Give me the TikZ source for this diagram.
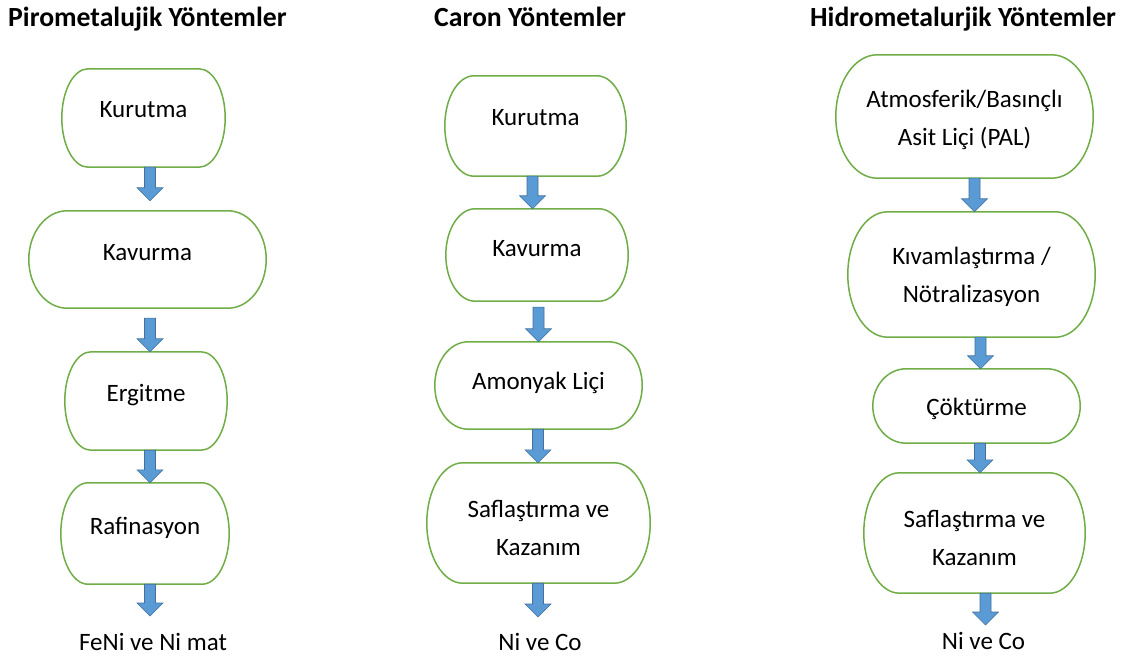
\documentclass[tikz,border=0pt]{standalone}
\usepackage{fontspec}
\setmainfont{Carlito}
\usetikzlibrary{calc}

\definecolor{stagegreen}{HTML}{70AD47}
\definecolor{flowblue}{HTML}{5B9BD5}
\definecolor{flowedge}{HTML}{41719C}

% block arrow from a start point straight down to a tip point
\newcommand\flowarrow[2]{%
  \path[arrowbody] let \p1=(#1), \p2=(#2) in
    (\x1-5.5pt,\y1) -- (\x1+5.5pt,\y1) -- (\x1+5.5pt,\y2+13pt)
    -- (\x1+13pt,\y2+13pt) -- (\x1,\y2) -- (\x1-13pt,\y2+13pt)
    -- (\x1-5.5pt,\y2+13pt) -- cycle;}

% terminator outline round a stage node: straight top and bottom,
% half-elliptic ends as wide as 0.161 of the node width
\newcommand\terminatorline[1]{%
  \path[stageline] let \p1=(#1.north west), \p2=(#1.south east),
    \n1={0.161*(\x2-\x1)}, \n2={(\y1-\y2)/2} in
    (\x1+\n1,\y1) -- (\x2-\n1,\y1)
    arc[start angle=90, end angle=-90, x radius={\n1*1pt}, y radius={\n2*1pt}]
    -- (\x1+\n1,\y2)
    arc[start angle=270, end angle=90, x radius={\n1*1pt}, y radius={\n2*1pt}]
    -- cycle;}

\tikzset{
  stage/.style={align=center, inner sep=0pt,
    font=\fontsize{25}{38}\selectfont},
  stageline/.style={draw=stagegreen, line width=1.5pt},
  arrowbody/.style={fill=flowblue, draw=flowedge, line width=0.6pt},
  heading/.style={anchor=base west, inner sep=0pt,
    font=\bfseries\fontsize{27.7}{32}\selectfont},
  product/.style={anchor=base, inner sep=0pt,
    font=\fontsize{25}{30}\selectfont},
}

\begin{document}
\begin{tikzpicture}[x=1pt, y=-1pt]
\useasboundingbox[fill=white] (0,0) rectangle (1125,660);

% column headings
\node[heading] (t1) at (8,27) {Pirometalujik Yöntemler};
\node[heading] (t2) at (434,27) {Caron Yöntemler};
\node[heading] (t3) at (810,27) {Hidrometalurjik Yöntemler};

% pyrometallurgical route
\node[stage, minimum width=163pt, minimum height=98pt, text height=0pt, text depth=0pt] (k1) at (143.5,118) {Kurutma};
\node[stage, minimum width=237pt, minimum height=97pt, text height=3pt, text depth=0pt] (k2) at (147.5,259.5) {Kavurma};
\node[stage, minimum width=162pt, minimum height=98pt, text height=2pt, text depth=0pt] (k3) at (146,401) {Ergitme};
\node[stage, minimum width=168pt, minimum height=101pt, text height=1pt, text depth=0pt] (k4) at (145,533.5) {Rafinasyon};
\coordinate (k5) at (150,616);
\node[product] (p1) at (153,650) {FeNi ve Ni mat};

% Caron route
\node[stage, minimum width=181pt, minimum height=100pt, text height=0pt, text depth=0pt] (c1) at (535.5,126) {Kurutma};
\node[stage, minimum width=182pt, minimum height=92pt, text height=4pt, text depth=0pt] (c2) at (537,255) {Kavurma};
\node[stage, minimum width=207pt, minimum height=87pt, text height=7pt, text depth=0pt] (c3) at (538.5,385.5) {Amonyak Liçi};
\node[stage, minimum width=223pt, minimum height=120pt, text height=64pt, text depth=0pt] (c4) at (538.5,523) {Saflaştırma ve\\Kazanım};
\coordinate (c5) at (538,617);
\node[product] (p2) at (540,650) {Ni ve Co};

% hydrometallurgical route
\node[stage, minimum width=257pt, minimum height=123pt, text height=59pt, text depth=0pt] (h1) at (964.5,116.5) {Atmosferik/Basınçlı\\Asit Liçi (PAL)};
\node[stage, minimum width=247pt, minimum height=125pt, text height=57pt, text depth=0pt] (h2) at (971.5,274.5) {Kıvamlaştırma /\\Nötralizasyon};
\node[stage, minimum width=207pt, minimum height=74pt, text height=18pt, text depth=0pt] (h3) at (976.5,406) {Çöktürme};
\node[stage, minimum width=221pt, minimum height=120pt, text height=64pt, text depth=0pt] (h4) at (974.5,533) {Saflaştırma ve\\Kazanım};
\coordinate (h5) at (985.5,625);
\node[product] (p3) at (983.5,649) {Ni ve Co};

% stage outlines
\foreach \s in {k1,k2,k3,k4,c1,c2,c3,c4,h1,h2,h3,h4} {\terminatorline{\s}}

% arrows, column 1
\flowarrow{$(k1.south)+(6.5,0)$}{$(k2.north)+(0,-10)$}
\flowarrow{$(k2.south)+(2.5,10)$}{k3.north}
\flowarrow{$(k3.south)+(4,0)$}{k4.north}
\flowarrow{$(k4.south)+(5,0)$}{k5}

% arrows, column 2
\flowarrow{$(c1.south)+(-3,0)$}{c2.north}
\flowarrow{$(c2.south)+(1.5,6)$}{c3.north}
\flowarrow{$(c3.south)+(-0.5,0)$}{c4.north}
\flowarrow{$(c4.south)+(-0.5,0)$}{c5}

% arrows, column 3
\flowarrow{$(h1.south)+(10,0)$}{h2.north}
\flowarrow{$(h2.south)+(9,0)$}{h3.north}
\flowarrow{$(h3.south)+(3.5,0)$}{h4.north}
\flowarrow{$(h4.south)+(11,0)$}{h5}
\end{tikzpicture}
\end{document}
